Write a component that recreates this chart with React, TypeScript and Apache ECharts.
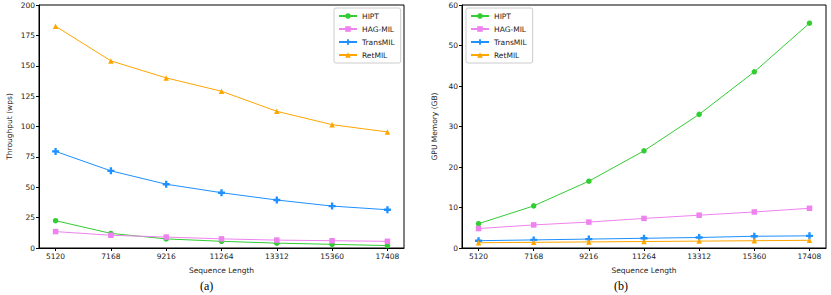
import React, { useEffect, useRef } from "react";
import * as echarts from "echarts";

const seqLens = [5120, 7168, 9216, 11264, 13312, 15360, 17408];
const seriesNames = ["HIPT", "HAG-MIL", "TransMIL", "RetMIL"];
const throughputHIPT = [22.5, 12, 7.5, 5.5, 4, 3, 2];
const throughputHAG = [13.5, 10.5, 9, 7.5, 6.5, 6, 5.5];
const throughputTrans = [79.5, 63.5, 52.5, 45.5, 39.5, 34.5, 31.5];
const throughputRet = [182.5, 154, 140, 129, 112.5, 101.5, 95.5];
const memoryHIPT = [6, 10.4, 16.5, 24, 33, 43.5, 55.5];
const memoryHAG = [4.8, 5.7, 6.4, 7.3, 8.1, 8.9, 9.8];
const memoryTrans = [1.8, 2.0, 2.2, 2.4, 2.6, 2.9, 3.0];
const memoryRet = [1.3, 1.4, 1.5, 1.6, 1.7, 1.8, 1.9];

const colors = ["#32cd32", "#ee82ee", "#1e90ff", "#ffa500"];
const symbols = [
  "circle",
  "rect",
  "path://M1,0H2V1H3V2H2V3H1V2H0V1H1Z",
  "triangle",
];

const FONT = "DejaVu Sans";

export default function App() {
  const ref = useRef<HTMLDivElement>(null);
  useEffect(() => {
    if (!ref.current) return;
    const chart = echarts.init(ref.current, null, { renderer: "svg" });
    const span = seqLens[seqLens.length - 1] - seqLens[0];
    const xmin = seqLens[0] - span * 0.05;
    const xmax = seqLens[seqLens.length - 1] + span * 0.05;
    const mkX = (gi: number) => ({
      type: "value",
      gridIndex: gi,
      min: xmin,
      max: xmax,
      name: "Sequence Length",
      nameLocation: "middle",
      nameGap: 18,
      nameTextStyle: { fontFamily: FONT, fontSize: 7.5, color: "#222" },
      splitLine: { show: false },
      axisLine: { show: true, onZero: false, lineStyle: { color: "#000", width: 1 } },
      axisTick: { show: true, inside: false, length: 3, customValues: seqLens, lineStyle: { color: "#000" } },
      axisLabel: {
        customValues: seqLens,
        formatter: (v: number) => String(v),
        fontFamily: FONT,
        fontSize: 7.5,
        color: "#222",
        margin: 4,
      },
    });
    const mkY = (gi: number, max: number, interval: number, name: string, gap: number) => ({
      type: "value",
      gridIndex: gi,
      min: 0,
      max,
      interval,
      name,
      nameLocation: "middle",
      nameGap: gap,
      nameTextStyle: { fontFamily: FONT, fontSize: 7.5, color: "#222" },
      splitLine: { show: false },
      axisLine: { show: true, lineStyle: { color: "#000", width: 1 } },
      axisTick: { show: true, inside: false, length: 3, lineStyle: { color: "#000" } },
      axisLabel: { formatter: (v: number) => String(v), fontFamily: FONT, fontSize: 7.5, color: "#222", margin: 4 },
    });
    const leftData = [throughputHIPT, throughputHAG, throughputTrans, throughputRet];
    const rightData = [memoryHIPT, memoryHAG, memoryTrans, memoryRet];
    const series: any[] = [];
    [leftData, rightData].forEach((set, gi) => {
      set.forEach((vals, i) => {
        series.push({
          name: seriesNames[i],
          type: "line",
          xAxisIndex: gi,
          yAxisIndex: gi,
          data: vals.map((v, k) => [seqLens[k], v]),
          symbol: symbols[i],
          symbolSize: i === 2 ? 7 : 5.5,
          showSymbol: true,
          color: colors[i],
          lineStyle: { width: 1, color: colors[i] },
          itemStyle: { color: colors[i] },
          z: 2 + i,
        });
      });
    });
    const legendBase = {
      orient: "vertical",
      data: seriesNames,
      itemWidth: 18,
      itemHeight: 7,
      itemGap: 5,
      padding: [4, 6, 4, 4],
      backgroundColor: "#fff",
      borderColor: "#ccc",
      borderWidth: 1,
      borderRadius: 2,
      textStyle: { fontFamily: FONT, fontSize: 7.5, color: "#222" },
      selectedMode: false,
    };
    chart.setOption({
      animation: false,
      backgroundColor: "#fff",
      grid: [
        { left: 39, top: 5, width: 365, height: 243, show: true, borderColor: "#000", borderWidth: 1, backgroundColor: "transparent" },
        { left: 462, top: 5, width: 364, height: 243, show: true, borderColor: "#000", borderWidth: 1, backgroundColor: "transparent" },
      ],
      xAxis: [mkX(0), mkX(1)],
      yAxis: [
        mkY(0, 200, 25, "Throughput (wps)", 26),
        mkY(1, 60, 10, "GPU Memory (GB)", 24),
      ],
      legend: [
        { ...legendBase, left: 334, top: 8 } as any,
        { ...legendBase, left: 466, top: 8 } as any,
      ],
      series,
      graphic: [
        { type: "text", left: 200, top: 280, style: { text: "(a)", font: "12px 'Liberation Serif'", fill: "#000" } },
        { type: "text", left: 614, top: 280, style: { text: "(b)", font: "12px 'Liberation Serif'", fill: "#000" } },
      ],
    });
    return () => chart.dispose();
  }, []);
  return (
    <div
      ref={ref}
      style={{ position: "fixed", left: 0, top: 0, width: 831, height: 295 }}
    />
  );
}
